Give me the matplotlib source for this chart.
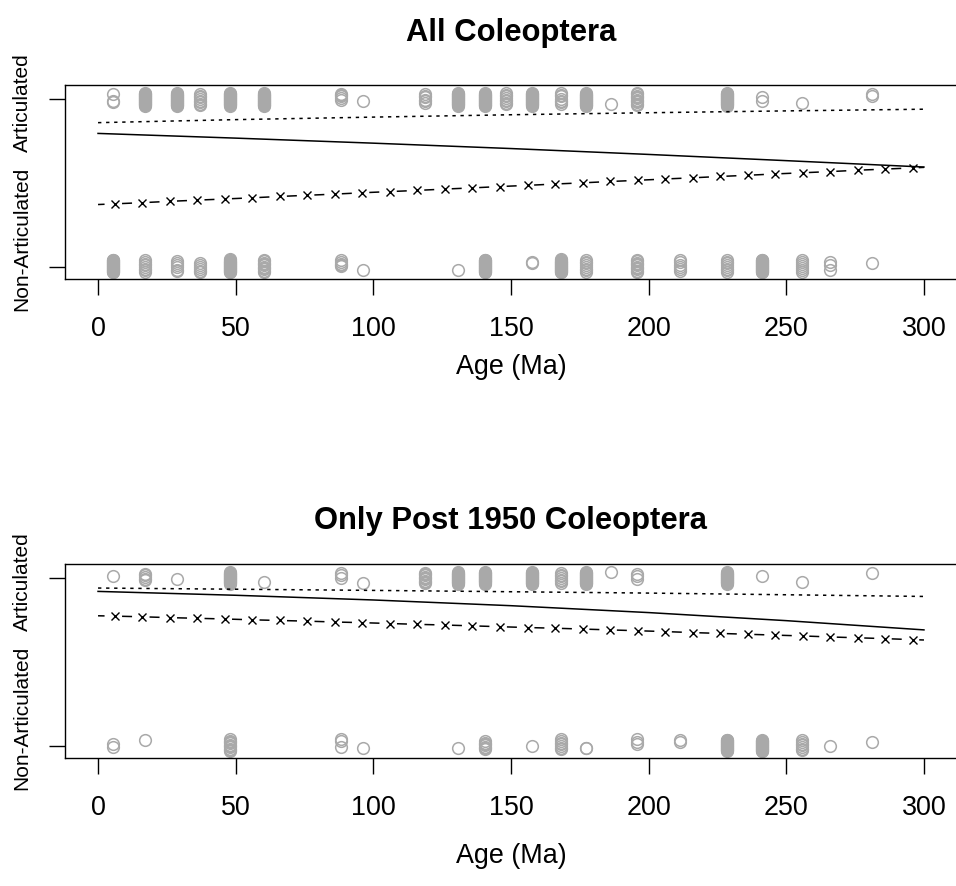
import numpy as np
import matplotlib.pyplot as plt
import matplotlib.transforms as mtransforms

plt.rcParams['font.family'] = ['Liberation Sans', 'DejaVu Sans']
plt.rcParams['lines.scale_dashes'] = False

W, H = 956, 886
GREY = '#a9a9a9'

# ages of the sampled columns (Ma); y values are the jittered 0/1 outcomes
ages_art_all = [5.4, 17.2, 28.5, 36.9, 48.1, 60.4, 88.4, 96.3, 118.7, 130.8, 140.7,
                148.3, 157.8, 168.0, 177.4, 186.5, 195.6, 228.3, 241.3, 255.7, 281.3]
y_art_all = [
    [1.03, 0.99, 0.98],
    [1.036, 1.032, 1.028, 1.024, 1.020, 1.016, 1.012, 1.008, 1.004, 1.000,
     0.996, 0.992, 0.988, 0.984, 0.980, 0.976, 0.972, 0.968, 0.964, 0.960],
    [1.034, 1.030, 1.026, 1.022, 1.018, 1.014, 1.010, 1.006, 1.002, 0.998,
     0.994, 0.990, 0.986, 0.982, 0.978, 0.974, 0.970, 0.966, 0.962, 0.958],
    [1.03, 1.02, 1.01, 1.0, 0.99, 0.98, 0.97, 0.962],
    [1.036, 1.032, 1.028, 1.024, 1.020, 1.016, 1.012, 1.008, 1.004, 1.000,
     0.996, 0.992, 0.988, 0.984, 0.980, 0.976, 0.972, 0.968, 0.964, 0.960],
    [1.034, 1.030, 1.026, 1.022, 1.018, 1.014, 1.010, 1.006, 1.002, 0.998,
     0.994, 0.990, 0.986, 0.982, 0.978, 0.974, 0.970, 0.966, 0.962, 0.958],
    [1.03, 1.022, 1.015, 1.005, 0.995],
    [0.99],
    [1.03, 1.02, 1.01, 0.995, 0.985, 0.975],
    [1.036, 1.032, 1.028, 1.024, 1.020, 1.016, 1.012, 1.008, 1.004, 1.000,
     0.996, 0.992, 0.988, 0.984, 0.980, 0.976, 0.972, 0.968, 0.964, 0.960],
    [1.034, 1.030, 1.026, 1.022, 1.018, 1.014, 1.010, 1.006, 1.002, 0.998,
     0.994, 0.990, 0.986, 0.982, 0.978, 0.974, 0.970, 0.966, 0.962, 0.958],
    [1.035, 1.025, 1.015, 1.005, 0.995, 0.985, 0.975, 0.968],
    [1.036, 1.032, 1.028, 1.024, 1.020, 1.016, 1.012, 1.008, 1.004, 1.000,
     0.996, 0.992, 0.988, 0.984, 0.980, 0.976, 0.972, 0.968, 0.964, 0.960],
    [1.035, 1.025, 1.015, 1.0, 0.99, 0.98, 0.97],
    [1.034, 1.030, 1.026, 1.022, 1.018, 1.014, 1.010, 1.006, 1.002, 0.998,
     0.994, 0.990, 0.986, 0.982, 0.978, 0.974, 0.970, 0.966, 0.962, 0.958],
    [0.968],
    [1.036, 1.028, 1.02, 1.012, 1.004, 0.996, 0.988, 0.98, 0.972, 0.964],
    [1.036, 1.032, 1.028, 1.024, 1.020, 1.016, 1.012, 1.008, 1.004, 1.000,
     0.996, 0.992, 0.988, 0.984, 0.980, 0.976, 0.972, 0.968, 0.964, 0.960],
    [1.01, 0.985],
    [0.978],
    [1.03, 1.015],
]
ages_non_all = [5.4, 17.2, 28.5, 36.9, 48.1, 60.4, 88.4, 96.3, 130.8, 140.7, 157.8,
                168.0, 177.4, 195.6, 211.5, 228.3, 241.3, 255.7, 265.8, 281.3]
y_non_all = [
    [0.044, 0.040, 0.036, 0.032, 0.028, 0.024, 0.020, 0.016, 0.012, 0.008,
     0.004, 0.000, -0.004, -0.008, -0.012, -0.016, -0.020, -0.024, -0.028, -0.032],
    [0.04, 0.03, 0.02, 0.01, 0.0, -0.01, -0.02, -0.028],
    [0.035, 0.025, 0.015, 0.0, -0.015, -0.025],
    [0.025, 0.012, 0.0, -0.012, -0.022, -0.03],
    [0.045, 0.041, 0.037, 0.033, 0.029, 0.025, 0.021, 0.017, 0.013, 0.009,
     0.005, 0.001, -0.003, -0.007, -0.011, -0.015, -0.019, -0.023, -0.027, -0.031],
    [0.042, 0.034, 0.026, 0.018, 0.01, 0.002, -0.006, -0.014, -0.022, -0.03],
    [0.04, 0.03, 0.02, 0.01, 0.004],
    [-0.02],
    [-0.016],
    [0.044, 0.040, 0.036, 0.032, 0.028, 0.024, 0.020, 0.016, 0.012, 0.008,
     0.004, 0.000, -0.004, -0.008, -0.012, -0.016, -0.020, -0.024, -0.028, -0.032],
    [0.03, 0.022],
    [0.045, 0.041, 0.037, 0.033, 0.029, 0.025, 0.021, 0.017, 0.013, 0.009,
     0.005, 0.001, -0.003, -0.007, -0.011, -0.015, -0.019, -0.023, -0.027, -0.031],
    [0.042, 0.032, 0.022, 0.012, 0.002, -0.01, -0.02, -0.03],
    [0.042, 0.034, 0.026, 0.018, 0.01, 0.002, -0.006, -0.014, -0.022, -0.03],
    [0.04, 0.028, 0.015, 0.003, -0.012, -0.025],
    [0.042, 0.032, 0.022, 0.012, 0.002, -0.01, -0.02, -0.03],
    [0.044, 0.040, 0.036, 0.032, 0.028, 0.024, 0.020, 0.016, 0.012, 0.008,
     0.004, 0.000, -0.004, -0.008, -0.012, -0.016, -0.020, -0.024, -0.028, -0.032],
    [0.04, 0.03, 0.018, 0.006, -0.006, -0.018, -0.028],
    [0.03, 0.01, -0.015],
    [0.024],
]

ages_art_post = [5.4, 17.2, 28.5, 48.1, 60.4, 88.4, 96.3, 118.7, 130.8, 140.7,
                 157.8, 168.0, 177.4, 186.5, 195.6, 228.3, 241.3, 255.7, 281.3]
y_art_post = [
    [1.01],
    [1.025, 1.015, 1.005, 0.995, 0.99],
    [0.996],
    [1.034, 1.030, 1.026, 1.022, 1.018, 1.014, 1.010, 1.006, 1.002,
     0.998, 0.994, 0.990, 0.986, 0.982, 0.978, 0.974, 0.970, 0.966],
    [0.974],
    [1.03, 1.015, 1.0],
    [0.97],
    [1.032, 1.024, 1.016, 1.008, 1.0, 0.992, 0.984, 0.976, 0.968],
    [1.034, 1.030, 1.026, 1.022, 1.018, 1.014, 1.010, 1.006, 1.002,
     0.998, 0.994, 0.990, 0.986, 0.982, 0.978, 0.974, 0.970, 0.966],
    [1.035, 1.031, 1.027, 1.023, 1.019, 1.015, 1.011, 1.007, 1.003,
     0.999, 0.995, 0.991, 0.987, 0.983, 0.979, 0.975, 0.971, 0.967],
    [1.036, 1.032, 1.028, 1.024, 1.020, 1.016, 1.012, 1.008, 1.004,
     1.000, 0.996, 0.992, 0.988, 0.984, 0.980, 0.976, 0.972, 0.968, 0.964],
    [1.03, 1.02, 1.01, 1.0, 0.99, 0.98, 0.972],
    [1.036, 1.032, 1.028, 1.024, 1.020, 1.016, 1.012, 1.008, 1.004,
     1.000, 0.996, 0.992, 0.988, 0.984, 0.980, 0.976, 0.972, 0.968, 0.964],
    [1.036],
    [1.025, 1.01, 0.995],
    [1.034, 1.030, 1.026, 1.022, 1.018, 1.014, 1.010, 1.006, 1.002,
     0.998, 0.994, 0.990, 0.986, 0.982, 0.978, 0.974, 0.970, 0.966],
    [1.01],
    [0.975],
    [1.03],
]
ages_non_post = [5.4, 17.2, 48.1, 88.4, 96.3, 130.8, 140.7, 157.8, 168.0, 177.4,
                 195.6, 211.5, 228.3, 241.3, 255.7, 265.8, 281.3]
y_non_post = [
    [0.015, -0.008],
    [0.034],
    [0.04, 0.032, 0.024, 0.016, 0.008, 0.0, -0.008, -0.016, -0.024, -0.03],
    [0.04, 0.03, -0.006],
    [-0.01],
    [-0.01],
    [0.028, 0.02, 0.012, 0.004, -0.004, -0.012, -0.02],
    [0.0],
    [0.04, 0.03, 0.02, 0.01, 0.0, -0.01, -0.02],
    [-0.01, -0.014],
    [0.04, 0.025, 0.012],
    [0.035, 0.022],
    [0.038, 0.034, 0.030, 0.026, 0.022, 0.018, 0.014, 0.010, 0.006,
     0.002, -0.002, -0.006, -0.010, -0.014, -0.018, -0.022, -0.026, -0.030],
    [0.036, 0.032, 0.028, 0.024, 0.020, 0.016, 0.012, 0.008, 0.004,
     0.000, -0.004, -0.008, -0.012, -0.016, -0.020, -0.024, -0.028, -0.032],
    [0.035, 0.025, 0.015, 0.005, -0.005, -0.015, -0.025],
    [0.0],
    [0.024],
]

# fitted curves
curve_ages = [0, 50, 100, 150, 200, 250, 300]
solid_all = [0.795, 0.767, 0.737, 0.705, 0.670, 0.633, 0.595]
dotted_all = [0.859, 0.877, 0.892, 0.906, 0.918, 0.929, 0.939]
solid_post = [0.920, 0.897, 0.869, 0.835, 0.794, 0.746, 0.691]
dotted_post = [0.940, 0.933, 0.926, 0.918, 0.910, 0.900, 0.890]

cross_ages = [0, 6, 16, 26, 36, 46, 56, 66, 76, 86, 96, 106, 116, 126, 136, 146,
              156, 166, 176, 186, 196, 206, 216, 226, 236, 246, 256, 266, 276, 286, 296, 300]
cross_all = [0.372, 0.376, 0.383, 0.391, 0.398, 0.405, 0.412, 0.420, 0.427, 0.434,
             0.442, 0.449, 0.456, 0.464, 0.471, 0.479, 0.486, 0.494, 0.501, 0.509,
             0.516, 0.524, 0.531, 0.539, 0.546, 0.554, 0.561, 0.568, 0.576, 0.583,
             0.590, 0.593]
cross_post = [0.775, 0.773, 0.769, 0.764, 0.760, 0.756, 0.751, 0.747, 0.743, 0.738,
              0.734, 0.729, 0.724, 0.720, 0.715, 0.710, 0.705, 0.701, 0.696, 0.691,
              0.686, 0.681, 0.675, 0.670, 0.665, 0.660, 0.655, 0.649, 0.644, 0.639,
              0.633, 0.631]

xticks = [0, 50, 100, 150, 200, 250, 300]


def draw_panel(ax, art_ages, art_y, non_ages, non_y, solid, dotted, cross, title,
               title_gap, xlab_gap):
    for a, ys in zip(art_ages, art_y):
        ax.plot([a] * len(ys), ys, 'o', mfc='none', mec=GREY, ms=8.4, mew=1.1)
    for a, ys in zip(non_ages, non_y):
        ax.plot([a] * len(ys), ys, 'o', mfc='none', mec=GREY, ms=8.4, mew=1.1)
    ax.plot(curve_ages, solid, color='black', lw=1.1)
    ax.plot(curve_ages, dotted, color='black', lw=1.1, linestyle=(0, (2.4, 3.4)))
    ax.plot(cross_ages, cross, color='black', lw=1.1, linestyle=(2.5, (7.2, 12.6)),
            marker='x', ms=6.2, mew=1.0, mec='black', markevery=slice(1, -1))

    ax.set_xlim(-12, 312)
    ax.set_ylim(-0.071, 1.083)
    ax.spines['right'].set_visible(False)
    for s in ['left', 'top', 'bottom']:
        ax.spines[s].set_linewidth(1.0)
    ax.set_xticks(xticks)
    ax.set_xticklabels([str(t) for t in xticks], fontsize=19.4)
    ax.set_yticks([0, 1])
    ax.set_yticklabels([])
    ax.tick_params(length=11.5, width=1.0, pad=15)

    top_px = H * (1 - ax.get_position().y1)
    bot_px = H * (1 - ax.get_position().y0)
    cx = (ax.get_position().x0 + ax.get_position().x1) / 2
    fig.text(cx, 1 - (top_px - title_gap) / H, title, ha='center', va='baseline',
             fontsize=22.3, fontweight='bold')
    fig.text(cx, 1 - (bot_px + xlab_gap) / H, 'Age (Ma)', ha='center', va='baseline',
             fontsize=19.4)

    tr = mtransforms.blended_transform_factory(fig.transFigure, ax.transData)
    ax.text(22 / W, 1 - 4 / 167.5, 'Articulated', transform=tr, rotation=90,
            ha='center', va='center', fontsize=15)
    ax.text(22 / W, 28 / 167.5, 'Non-Articulated', transform=tr, rotation=90,
            ha='center', va='center', fontsize=15)


fig = plt.figure(figsize=(W / 100, H / 100), dpi=100)
ax1 = fig.add_axes([65 / W, 1 - 279 / H, 892 / W, 194 / H])
ax2 = fig.add_axes([65 / W, 1 - 758 / H, 892 / W, 194 / H])

draw_panel(ax1, ages_art_all, y_art_all, ages_non_all, y_non_all,
           solid_all, dotted_all, cross_all, 'All Coleoptera', 44, 95)
draw_panel(ax2, ages_art_post, y_art_post, ages_non_post, y_non_post,
           solid_post, dotted_post, cross_post, 'Only Post 1950 Coleoptera', 35, 105)

fig.savefig('out.png', dpi=100)
